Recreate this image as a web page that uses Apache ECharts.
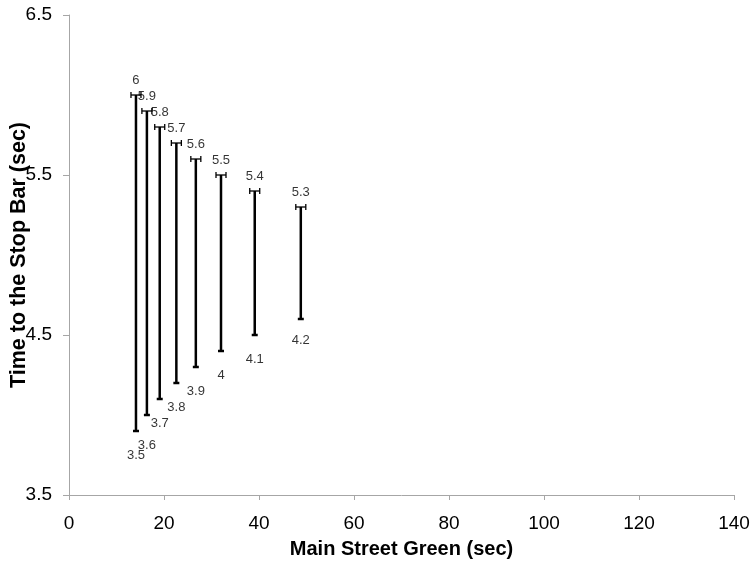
<!DOCTYPE html>
<html>
<head>
<meta charset="utf-8">
<script src="https://cdn.jsdelivr.net/npm/echarts@6/dist/echarts.min.js"></script>
<style>html,body{margin:0;padding:0;background:#fff}#c{width:754px;height:565px}</style>
</head>
<body>
<div id="c"></div>
<script>
// Data
var greenTimes = [14.1, 16.4, 19.1, 22.6, 26.7, 32.0, 39.1, 48.8];
var highValues = [6.0, 5.9, 5.8, 5.7, 5.6, 5.5, 5.4, 5.3];
var lowValues  = [3.9, 4.0, 4.1, 4.2, 4.3, 4.4, 4.5, 4.6];
var highLabels = ['6', '5.9', '5.8', '5.7', '5.6', '5.5', '5.4', '5.3'];
var lowLabels  = ['3.5', '3.6', '3.7', '3.8', '3.9', '4', '4.1', '4.2'];
var yTicks = [3.5, 4.5, 5.5, 6.5];

var FONT = '"Liberation Sans", Arial, sans-serif';

var barData = greenTimes.map(function (x, i) { return [x, lowValues[i], highValues[i]]; });
var highPts = greenTimes.map(function (x, i) { return [x, highValues[i]]; });
var lowPts = greenTimes.map(function (x, i) {
  var d = { value: [x, lowValues[i]] };
  if (i === 1) d.label = { distance: 24 };
  if (i === lowLabels.length - 1) d.label = { distance: 15 };
  return d;
});

function renderBar(params, api) {
  var x = api.value(0), lo = api.value(1), hi = api.value(2);
  var pt = api.coord([x, hi]);
  var pb = api.coord([x, lo]);
  var st = { stroke: '#000', lineWidth: 2.5 };
  var thin = { stroke: '#000', lineWidth: 1.3 };
  return {
    type: 'group',
    children: [
      { type: 'line', shape: { x1: pt[0], y1: pt[1], x2: pb[0], y2: pb[1] }, style: st },
      { type: 'line', shape: { x1: pt[0] - 5, y1: pt[1], x2: pt[0] + 5, y2: pt[1] }, style: thin },
      { type: 'line', shape: { x1: pt[0] - 5, y1: pt[1] - 3, x2: pt[0] - 5, y2: pt[1] + 3 }, style: thin },
      { type: 'line', shape: { x1: pt[0] + 5, y1: pt[1] - 3, x2: pt[0] + 5, y2: pt[1] + 3 }, style: thin },
      { type: 'line', shape: { x1: pb[0] - 3, y1: pb[1], x2: pb[0] + 3, y2: pb[1] }, style: { stroke: '#000', lineWidth: 2.5 } }
    ]
  };
}

var chart = echarts.init(document.getElementById('c'));
chart.setOption({
  animation: false,
  backgroundColor: '#fff',
  grid: { left: 69, right: 20, top: 15, bottom: 70, containLabel: false, outerBoundsMode: 'none' },
  xAxis: {
    type: 'value', min: 0, max: 140, interval: 20,
    name: 'Main Street Green (sec)', nameLocation: 'middle', nameGap: 44, nameMoveOverlap: false,
    nameTextStyle: { fontFamily: FONT, fontSize: 20, fontWeight: 'bold', color: '#000' },
    axisLine: { show: true, lineStyle: { color: '#a6a6a6', width: 1 } },
    axisTick: { show: true, inside: false, length: 5, lineStyle: { color: '#a6a6a6' } },
    axisLabel: { fontFamily: FONT, fontSize: 19, color: '#000', margin: 19 },
    splitLine: { show: false }
  },
  yAxis: {
    type: 'value', min: 3.5, max: 6.5,
    name: 'Time to the Stop Bar (sec)', nameLocation: 'middle', nameGap: 38.5, nameMoveOverlap: false,
    nameTextStyle: { fontFamily: FONT, fontSize: 21.5, fontWeight: 'bold', color: '#000' },
    axisLine: { show: true, lineStyle: { color: '#a6a6a6', width: 1 } },
    axisTick: { show: true, length: 6, customValues: yTicks, lineStyle: { color: '#a6a6a6' } },
    axisLabel: { fontFamily: FONT, fontSize: 19, color: '#000', margin: 17, customValues: yTicks,
      formatter: function (v) { return String(v); } },
    splitLine: { show: false }
  },
  series: [
    { type: 'custom', renderItem: renderBar, data: barData, encode: { x: 0, y: [1, 2] }, z: 3 },
    { type: 'scatter', data: highPts, symbolSize: 0, silent: true, z: 4,
      label: { show: true, position: 'top', distance: 8, fontFamily: FONT, fontSize: 13, color: '#000',
        formatter: function (p) { return highLabels[p.dataIndex]; } } },
    { type: 'scatter', data: lowPts, symbolSize: 0, silent: true, z: 4,
      label: { show: true, position: 'bottom', distance: 18, fontFamily: FONT, fontSize: 13, color: '#000',
        formatter: function (p) { return lowLabels[p.dataIndex]; } } }
  ]
});
</script>
</body>
</html>
